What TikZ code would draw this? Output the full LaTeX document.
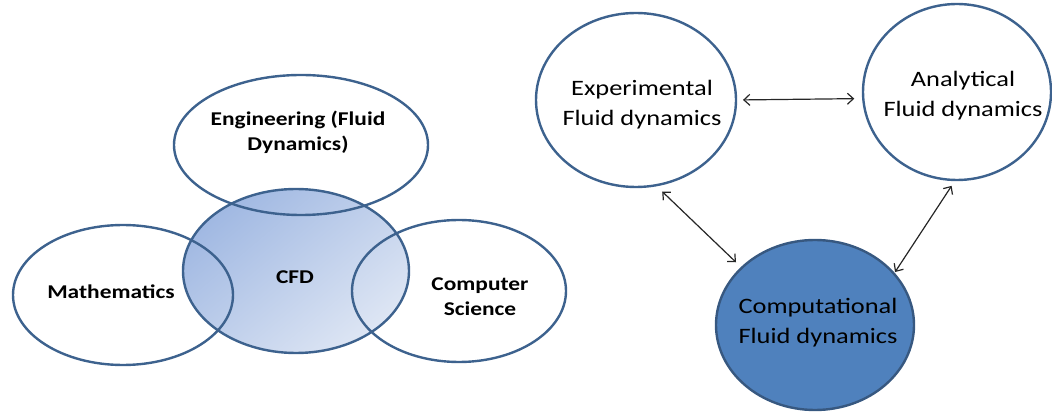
\documentclass[tikz,border=0pt]{standalone}
\usepackage{fontspec}
\setmainfont{Carlito}[FakeStretch=1.2]
\usetikzlibrary{shapes.geometric,arrows.meta}

\definecolor{edgeblue}{RGB}{61,98,142}
\definecolor{compblue}{RGB}{79,129,189}
\definecolor{cfddark}{RGB}{160,184,226}
\definecolor{cfdlight}{RGB}{222,230,244}
\pgfdeclareverticalshading{cfdshade}{100bp}{color(0bp)=(cfdlight); color(25bp)=(cfdlight); color(75bp)=(cfddark); color(100bp)=(cfddark)}

\begin{document}
\begin{tikzpicture}[x=1pt, y=1pt,
  venn/.style={ellipse, draw=edgeblue, line width=2.4pt, inner sep=0pt, outer sep=0pt},
  fieldlbl/.style={font=\fontsize{19.5}{25}\selectfont\bfseries, align=center, text=black},
  cfdlbl/.style={font=\fontsize{22}{30}\selectfont, align=center, text=black},
  link/.style={{Straight Barb[length=6pt,width=11pt]}-{Straight Barb[length=6pt,width=11pt]}, line width=1.2pt, black!85}]
\useasboundingbox (0,0) rectangle (1052,415);

% left: the three fields around CFD
\node[venn, shade, shading=cfdshade, shading angle=40, minimum width=226pt, minimum height=164pt] (cfd) at (296,144) {};
\node[venn, minimum width=254pt, minimum height=140pt] (eng) at (301,270) {};
\node[venn, minimum width=220pt, minimum height=140pt] (math) at (123,120) {};
\node[venn, minimum width=214pt, minimum height=142pt] (cs) at (459,124) {};

\node[fieldlbl] at (298,283) {Engineering (Fluid\\Dynamics)};
\node[fieldlbl] at (295,138) {CFD};
\node[fieldlbl] at (111,123) {Mathematics};
\node[fieldlbl] at (480,118) {Computer\\Science};

% right: the three ways of doing fluid dynamics
\node[venn, minimum width=200pt, minimum height=174pt] (exp) at (636,315) {};
\node[venn, minimum width=188pt, minimum height=176pt] (ana) at (957,323) {};
\node[venn, draw=edgeblue!90!black, fill=compblue, minimum width=198pt, minimum height=170pt] (comp) at (815,90) {};

\node[cfdlbl] at (642,310) {Experimental\\Fluid dynamics};
\node[cfdlbl] at (963,319) {Analytical\\Fluid dynamics};
\node[cfdlbl] at (818,92) {Computational\\Fluid dynamics};

\draw[link, shorten <=7pt, shorten >=9pt] (exp.0) -- (ana.184);
\draw[link, shorten <=9pt, shorten >=8pt] (exp.-77) -- (comp.142);
\draw[link, shorten <=7pt, shorten >=2pt] (ana.-91) -- (comp.33);
\end{tikzpicture}
\end{document}
